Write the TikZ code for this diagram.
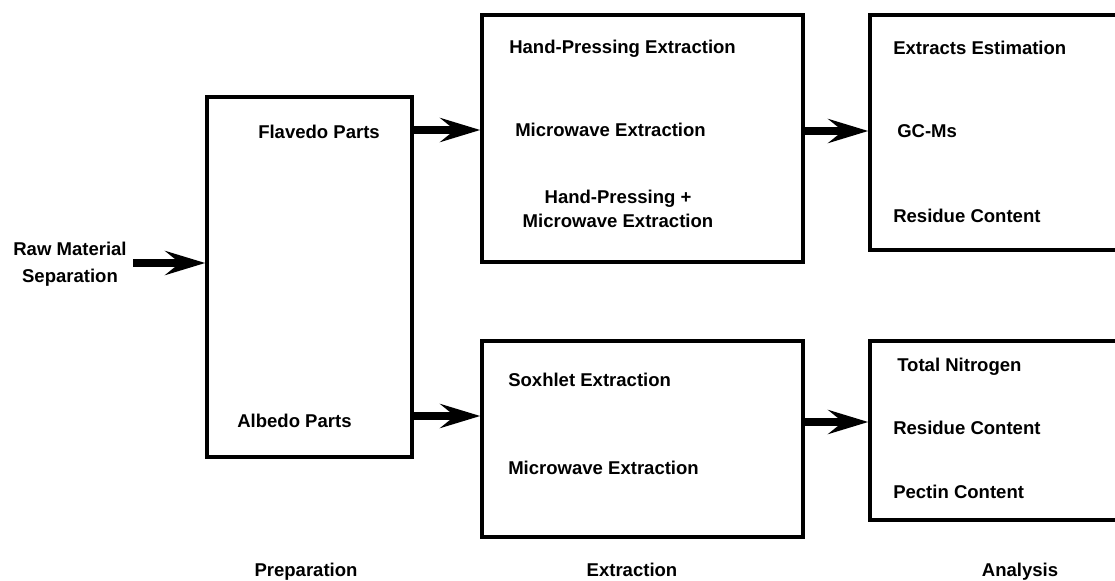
\documentclass[tikz,border=0pt]{standalone}
\usepackage{fontspec}
\setmainfont{Liberation Sans}
\usetikzlibrary{arrows.meta,fit}
\begin{document}
\begin{tikzpicture}[x=0.75pt,y=-0.75pt,
  box/.style={draw=black,line width=2.6pt,inner sep=0pt,fill=none},
  lbl/.style={font=\fontsize{13.9}{17}\selectfont\bfseries,inner sep=0pt,anchor=base west},
  clbl/.style={font=\fontsize{13.9}{17}\selectfont\bfseries,inner sep=0pt,align=center},
  bigarrow/.style={line width=6pt,-{Stealth[length=30pt,width=18pt,inset=11pt]}}]
\clip (0,0) rectangle (1115,581);
\fill[white] (0,0) rectangle (1115,581);
% boxes
\node[box,fit={(207,97) (412,457)}] (prep) {};
\node[box,fit={(482,15) (803,262)}] (extA) {};
\node[box,fit={(482,341) (803,537)}] (extB) {};
\node[box,fit={(870,15) (1135,250)}] (anaA) {};
\node[box,fit={(870,341) (1135,520)}] (anaB) {};
% texts
\node[clbl] (raw) at (70,264) {Raw Material\\[3pt]Separation};
\node[lbl] (flav) at (258,139) {Flavedo Parts};
\node[lbl] (alb) at (237,427) {Albedo Parts};
\node[lbl] (hp) at (509,54) {Hand-Pressing Extraction};
\node[lbl] (mw) at (515,137) {Microwave Extraction};
\node[clbl] (hpmw) at (618,209) {Hand-Pressing +\\[1pt]Microwave Extraction};
\node[lbl] (sox) at (508,387) {Soxhlet Extraction};
\node[lbl] (mw2) at (508,474) {Microwave Extraction};
\node[lbl] (ee) at (893,55) {Extracts Estimation};
\node[lbl] (gc) at (897,138) {GC-Ms};
\node[lbl] (rc) at (893,223) {Residue Content};
\node[lbl] (tn) at (897,371) {Total Nitrogen};
\node[lbl] (rc2) at (893,434) {Residue Content};
\node[lbl] (pc) at (893,498) {Pectin Content};
\node[lbl,anchor=base] (lp) at (306,576) {Preparation};
\node[lbl,anchor=base] (le) at (632,576) {Extraction};
\node[lbl,anchor=base] (la) at (1020,576) {Analysis};
% arrows
\coordinate (rawS) at (133,263);
\draw[bigarrow] (rawS) -- (prep.west |- rawS);
\coordinate (fy) at (0,130);
\draw[bigarrow] (prep.east |- fy) -- (extA.west |- fy);
\coordinate (ay) at (0,416);
\draw[bigarrow] (prep.east |- ay) -- (extB.west |- ay);
\coordinate (ty) at (0,131);
\draw[bigarrow] (extA.east |- ty) -- (anaA.west |- ty);
\coordinate (by) at (0,422);
\draw[bigarrow] (extB.east |- by) -- (anaB.west |- by);
\end{tikzpicture}
\end{document}
